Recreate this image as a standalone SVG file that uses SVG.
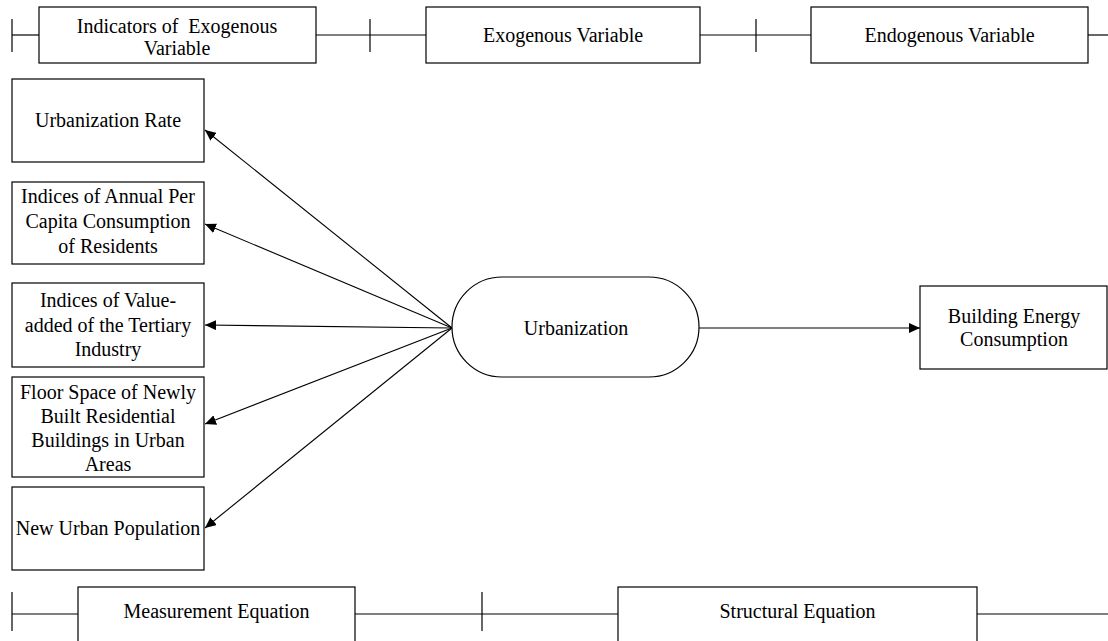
<svg xmlns="http://www.w3.org/2000/svg" width="1108" height="641" viewBox="0 0 1108 641">
<defs>
<marker id="arr" markerUnits="userSpaceOnUse" markerWidth="11" markerHeight="10" refX="11" refY="5" orient="auto">
<path d="M0,0 L11,5 L0,10 Z" fill="#000"/>
</marker>
<style>
.box{fill:#fff;stroke:#000;stroke-width:1.2}
.ln{stroke:#000;stroke-width:1.2;fill:none}
.ab{stroke:#000;stroke-width:1.1;fill:none;marker-end:url(#arr)}
text{font-family:"Liberation Serif","Times New Roman",serif;font-size:20px;fill:#000;text-anchor:middle}
</style>
</defs>
<rect width="1108" height="641" fill="#fff"/>
<g id="connectors">
<line class="ln" x1="12" y1="19" x2="12" y2="52"/>
<line class="ln" x1="12" y1="35" x2="39" y2="35"/>
<line class="ln" x1="316" y1="35" x2="426" y2="35"/>
<line class="ln" x1="370" y1="19" x2="370" y2="52"/>
<line class="ln" x1="700" y1="35" x2="811" y2="35"/>
<line class="ln" x1="756" y1="19" x2="756" y2="52"/>
<line class="ln" x1="1088" y1="35" x2="1108" y2="35"/>
<line class="ln" x1="12" y1="592" x2="12" y2="631"/>
<line class="ln" x1="12" y1="614" x2="78" y2="614"/>
<line class="ln" x1="355" y1="614" x2="618" y2="614"/>
<line class="ln" x1="482" y1="592" x2="482" y2="631"/>
<line class="ln" x1="977" y1="614" x2="1108" y2="614"/>
<line class="ab" x1="452" y1="328" x2="205" y2="130"/>
<line class="ab" x1="452" y1="328" x2="205" y2="224"/>
<line class="ab" x1="452" y1="328" x2="205" y2="325"/>
<line class="ab" x1="452" y1="328" x2="205" y2="424"/>
<line class="ab" x1="452" y1="328" x2="205" y2="528"/>
<line class="ab" x1="699" y1="328" x2="920" y2="328"/>
</g>
<g id="hdr-indicators">
<rect class="box" x="39" y="7" width="277" height="56"/>
<text x="177" y="33" xml:space="preserve">Indicators of  Exogenous</text>
<text x="177" y="55">Variable</text>
</g>
<g id="hdr-exogenous">
<rect class="box" x="426" y="7" width="274" height="56"/>
<text x="563" y="42">Exogenous Variable</text>
</g>
<g id="hdr-endogenous">
<rect class="box" x="811" y="7" width="277" height="56"/>
<text x="949.5" y="42">Endogenous Variable</text>
</g>
<g id="ind-urbanization-rate">
<rect class="box" x="12" y="79" width="192" height="83"/>
<text x="108" y="127">Urbanization Rate</text>
</g>
<g id="ind-consumption">
<rect class="box" x="12" y="182" width="192" height="82"/>
<text x="108" y="203">Indices of Annual Per</text>
<text x="108" y="228">Capita Consumption</text>
<text x="108" y="253">of Residents</text>
</g>
<g id="ind-tertiary">
<rect class="box" x="12" y="283" width="192" height="84"/>
<text x="108" y="307">Indices of Value-</text>
<text x="108" y="332">added of the Tertiary</text>
<text x="108" y="356">Industry</text>
</g>
<g id="ind-floor-space">
<rect class="box" x="12" y="377" width="192" height="100"/>
<text x="108" y="399">Floor Space of Newly</text>
<text x="108" y="423">Built Residential</text>
<text x="108" y="447">Buildings in Urban</text>
<text x="108" y="471">Areas</text>
</g>
<g id="ind-new-population">
<rect class="box" x="12" y="487" width="192" height="83"/>
<text x="108" y="535">New Urban Population</text>
</g>
<g id="urbanization">
<rect class="box" x="452" y="277" width="247" height="100" rx="50" ry="50"/>
<text x="576" y="335">Urbanization</text>
</g>
<g id="building-energy">
<rect class="box" x="920" y="286" width="187" height="83"/>
<text x="1014" y="323">Building Energy</text>
<text x="1014" y="346">Consumption</text>
</g>
<g id="ftr-measurement">
<rect class="box" x="78" y="587" width="277" height="80"/>
<text x="216.5" y="618">Measurement Equation</text>
</g>
<g id="ftr-structural">
<rect class="box" x="618" y="587" width="359" height="80"/>
<text x="797.5" y="618">Structural Equation</text>
</g>
</svg>
